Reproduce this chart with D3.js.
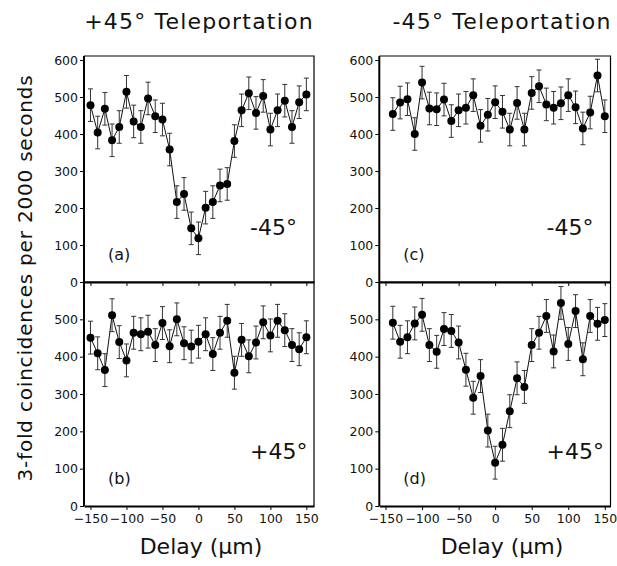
<!DOCTYPE html>
<html lang="en">
<head>
<meta charset="UTF-8">
<title>Teleportation coincidences</title>
<script src="https://d3js.org/d3.v7.min.js"></script>
<style>
  body { margin: 0; background: #fff; }
  text { font-family: "DejaVu Sans", sans-serif; fill: #111; }
</style>
</head>
<body>
<script>
    const width  = 617;
    const height = 566;

    // delay positions (µm)
    const delayAB = d3.range(-150, 151, 10);
    const delayCD = d3.range(-140, 151, 10);

    // 3-fold coincidences per 2000 s
    const countsA = [478, 404, 468, 383, 419, 514, 434, 419, 496, 448, 439, 358, 216, 238, 145,
                     118, 201, 216, 261, 265, 381, 464, 510, 457, 503, 412, 464, 490, 419, 486, 507];
    const countsB = [451, 409, 364, 511, 439, 390, 464, 460, 467, 431, 490, 428, 500, 436, 427,
                     440, 460, 407, 464, 496, 357, 445, 401, 438, 492, 457, 496, 471, 431, 420, 452];
    const countsC = [454, 485, 494, 400, 539, 469, 467, 493, 435, 464, 471, 505, 422, 452, 486,
                     460, 412, 484, 412, 511, 529, 480, 471, 483, 505, 472, 415, 458, 558, 448];
    const countsD = [491, 440, 452, 489, 512, 431, 413, 474, 469, 438, 365, 290, 348, 202, 116,
                     164, 254, 342, 319, 431, 464, 509, 414, 544, 434, 522, 393, 509, 488, 498];
    const errBar = 44;

    const yTicks = [0, 100, 200, 300, 400, 500, 600];
    const xTicks = [-150, -100, -50, 0, 50, 100, 150];

    const panels = [
        {x: delayAB, y: countsA, tag: "(a)", pol: "-45°", col: 0, row: 0},
        {x: delayAB, y: countsB, tag: "(b)", pol: "+45°", col: 0, row: 1},
        {x: delayCD, y: countsC, tag: "(c)", pol: "-45°", col: 1, row: 0},
        {x: delayCD, y: countsD, tag: "(d)", pol: "+45°", col: 1, row: 1}
    ];

    const cols = [
        {x0: 84, x1: 314, dom: [-159, 160.6]},
        {x0: 379.3, x1: 610.5, dom: [-158.5, 157.8]}
    ];
    const rows = [
        {y600: 60, y0: 282, top: 56},
        {y600: 282, y0: 506, top: 282}
    ];

    const svg = d3.select("body").append("svg")
        .attr("width", width)
        .attr("height", height);

    panels.forEach(p => {
        const c = cols[p.col], r = rows[p.row];
        const x = d3.scaleLinear().domain(c.dom).range([c.x0, c.x1]);
        const y = d3.scaleLinear().domain([0, 600]).range([r.y0, r.y600]);
        const g = svg.append("g");

        // thin top/right frame
        g.append("path")
            .attr("d", `M${c.x0},${r.top}H${c.x1}V${r.y0}`)
            .attr("fill", "none")
            .attr("stroke", "#000")
            .attr("stroke-width", 1.2);

        // y axis
        const yAxis = d3.axisLeft(y).tickValues(p.row === 1 ? yTicks.slice(0, 6) : yTicks)
            .tickSize(4).tickPadding(2).tickSizeOuter(0);
        const ya = g.append("g").attr("transform", `translate(${c.x0},0)`).call(yAxis);
        ya.select(".domain").attr("d", `M0,${r.top}V${r.y0}`).attr("stroke-width", 2);
        ya.selectAll("text").style("font-size", "12.5px");

        // x axis
        const xAxis = d3.axisBottom(x).tickValues(xTicks).tickSize(4).tickPadding(4).tickSizeOuter(0);
        const xa = g.append("g").attr("transform", `translate(0,${r.y0})`).call(xAxis);
        xa.select(".domain").attr("stroke-width", 2);
        if (p.row === 0) xa.selectAll("text").remove();
        else xa.selectAll("text").style("font-size", "12.5px");

        const pts = p.x.map((d, i) => ({d: d, v: p.y[i]}));

        g.append("path")
            .datum(pts)
            .attr("d", d3.line().x(d => x(d.d)).y(d => y(d.v)))
            .attr("fill", "none")
            .attr("stroke", "#111")
            .attr("stroke-width", 1);

        const eb = g.append("g").attr("stroke", "#333").attr("stroke-width", 1);
        pts.forEach(d => {
            const xx = x(d.d), lo = y(d.v - errBar), hi = y(d.v + errBar);
            eb.append("path")
              .attr("d", `M${xx},${lo}V${hi}M${xx - 2.5},${hi}H${xx + 2.5}M${xx - 2.5},${lo}H${xx + 2.5}`);
        });

        g.selectAll("circle").data(pts).join("circle")
            .attr("cx", d => x(d.d))
            .attr("cy", d => y(d.v))
            .attr("r", 4)
            .attr("fill", "#000");

        g.append("text")
            .attr("x", c.x0 + 24).attr("y", r.y0 - 22)
            .style("font-size", "16px")
            .text(p.tag);

        g.append("text")
            .attr("x", c.x1 - 64).attr("y", r.y0 - 47)
            .style("font-size", "22px")
            .text(p.pol);
    });

    // titles
    svg.append("text").attr("x", 199).attr("y", 29).attr("text-anchor", "middle")
        .style("font-size", "22px").style("letter-spacing", "1.2px").text("+45° Teleportation");
    svg.append("text").attr("x", 502).attr("y", 29).attr("text-anchor", "middle")
        .style("font-size", "22px").style("letter-spacing", "1.2px").text("-45° Teleportation");

    // x labels
    [201, 502].forEach(cx => {
        svg.append("text").attr("x", cx).attr("y", 554).attr("text-anchor", "middle")
            .style("font-size", "22px").text("Delay (µm)");
    });

    // y label
    svg.append("text")
        .attr("transform", "translate(32,278) rotate(-90)")
        .attr("text-anchor", "middle")
        .style("font-size", "20px")
        .style("letter-spacing", "0.8px")
        .text("3-fold coincidences per 2000 seconds");
</script>
</body>
</html>
